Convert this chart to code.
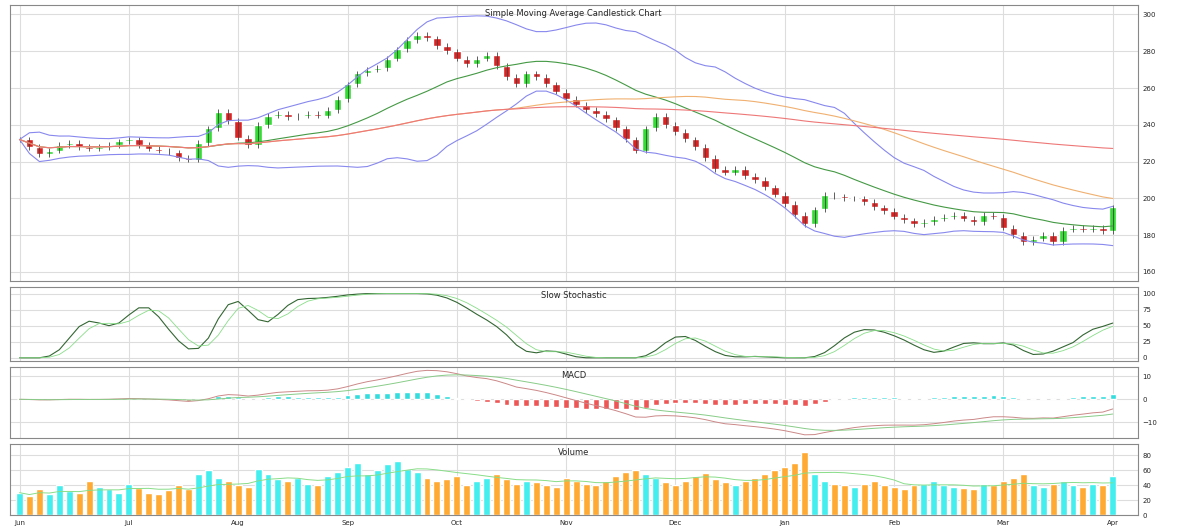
import numpy as np, pandas as pd, matplotlib
matplotlib.use("Agg")
import matplotlib.pyplot as plt, seaborn as sns

closes = [232,228,224,226,229,230,228,227,228,229,231,232,229,227,226,225,222,221,230,238,
          247,242,233,229,240,245,246,244,245,246,245,248,254,262,268,270,271,276,281,286,
          289,287,283,280,276,273,276,278,272,266,262,268,266,262,258,254,251,248,246,243,
          238,232,226,238,245,240,236,232,228,222,216,214,216,212,210,206,202,197,191,186,
          194,202,201,200,200,198,195,193,190,188,186,187,189,190,191,189,187,191,190,184,
          180,176,178,180,176,183,184,183,184,182,195]
volumes = [30,25,35,28,40,32,30,45,38,35,30,42,36,30,28,33,40,35,55,60,
           50,45,40,38,62,55,48,45,50,42,40,52,58,65,70,55,60,68,72,62,
           58,50,45,48,52,40,45,50,55,48,42,46,44,40,38,50,45,42,40,46,
           52,58,60,55,50,44,40,46,52,56,48,44,40,45,50,55,60,65,70,85,
           55,45,42,40,38,42,45,40,38,35,40,42,45,40,38,36,35,42,40,45,
           50,55,40,38,42,45,40,38,42,40,52]
month_labels = ["Jun","Jul","Aug","Sep","Oct","Nov","Dec","Jan","Feb","Mar","Apr"]

c = pd.Series(closes, dtype=float)
o = c.shift(1).fillna(c.iloc[0])
n = len(c); x = np.arange(n)
hi = np.maximum(o, c) + 1.5; lo = np.minimum(o, c) - 1.5

sns.set_style("whitegrid", {"grid.color": "#dddddd"})
fig = plt.figure(figsize=(12, 5.31), dpi=100)
gs = fig.add_gridspec(4, 1, height_ratios=[280, 75, 72, 72], hspace=0.05,
                      left=0.008, right=0.948, top=0.99, bottom=0.03)
axs = [fig.add_subplot(gs[i]) for i in range(4)]
for a in axs:
    a.yaxis.tick_right(); a.tick_params(labelsize=5, length=0)
    a.set_xlim(-1, n + 1.5)
    for s in a.spines.values(): s.set_color("#888888")

ax = axs[0]
up = c >= o
cols = np.where(up, "#33dd33", "#dd2222")
ax.vlines(x, lo, hi, color="#444444", lw=0.6)
ax.bar(x, (c - o).abs().clip(lower=0.8), bottom=np.minimum(o, c), color=cols, width=0.75)
ma20 = c.rolling(20, min_periods=1).mean(); sd = c.rolling(20, min_periods=1).std().fillna(0)
sns.lineplot(x=x, y=ma20, ax=ax, color="#449944", lw=0.8)
sns.lineplot(x=x, y=ma20 + 2 * sd, ax=ax, color="#8888ee", lw=0.8)
sns.lineplot(x=x, y=ma20 - 2 * sd, ax=ax, color="#8888ee", lw=0.8)
sns.lineplot(x=x, y=c.rolling(50, min_periods=1).mean(), ax=ax, color="#f0b070", lw=0.8)
sns.lineplot(x=x, y=c.expanding().mean(), ax=ax, color="#ee7777", lw=0.8)
ax.set_ylim(155, 305)
ax.set_title("Simple Moving Average Candlestick Chart", fontsize=6, pad=-8, y=1)

low14 = c.rolling(14, min_periods=1).min(); high14 = c.rolling(14, min_periods=1).max()
k = (100 * (c - low14) / (high14 - low14).replace(0, 1)).rolling(3, min_periods=1).mean()
d = k.rolling(3, min_periods=1).mean()
sns.lineplot(x=x, y=k.rolling(3, min_periods=1).mean(), ax=axs[1], color="#336633", lw=0.8)
sns.lineplot(x=x, y=d.rolling(3, min_periods=1).mean(), ax=axs[1], color="#88dd88", lw=0.6)
axs[1].set_ylim(-5, 110); axs[1].set_title("Slow Stochastic", fontsize=6, pad=-8, y=1)

macd = c.ewm(span=12).mean() - c.ewm(span=26).mean(); sig = macd.ewm(span=9).mean()
hist = macd - sig
axs[2].bar(x, hist, color=np.where(hist >= 0, "#33dddd", "#ee5555"), width=0.6)
sns.lineplot(x=x, y=macd, ax=axs[2], color="#cc8888", lw=0.7)
sns.lineplot(x=x, y=sig, ax=axs[2], color="#88cc88", lw=0.7)
axs[2].set_title("MACD", fontsize=6, pad=-8, y=1)

axs[3].bar(x, volumes, color=np.where(up, "#44eeee", "#ffaa33"), width=0.7)
sns.lineplot(x=x, y=pd.Series(volumes).rolling(10, min_periods=1).mean(), ax=axs[3], color="#88dd88", lw=0.7)
axs[3].set_ylim(0, 95); axs[3].set_title("Volume", fontsize=6, pad=-8, y=1)
ticks = np.linspace(0, n - 1, len(month_labels))
for a in axs:
    a.set_ylabel(""); a.set_xticks(ticks)
for a in axs[:3]: a.set_xticklabels([])
axs[3].set_xticklabels(month_labels, fontsize=5)
fig.savefig("out.png")
